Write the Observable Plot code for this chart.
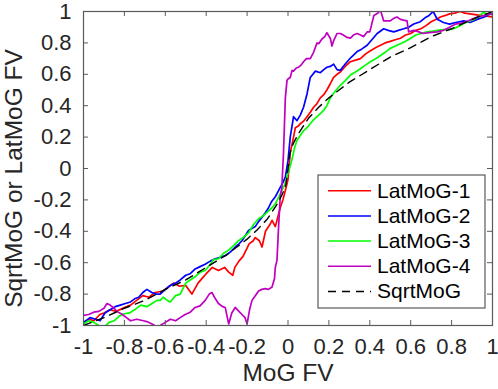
<!DOCTYPE html>
<html><head><meta charset="utf-8">
<script src="https://cdn.jsdelivr.net/npm/d3@7"></script>
<script src="https://cdn.jsdelivr.net/npm/@observablehq/plot@0.6"></script>
<style>body{margin:0;background:#fff}</style>
</head><body><div id="chart"></div>
<script>
const xTicks = [-1, -0.8, -0.6, -0.4, -0.2, 0, 0.2, 0.4, 0.6, 0.8, 1];
const yTicks = [-1, -0.8, -0.6, -0.4, -0.2, 0, 0.2, 0.4, 0.6, 0.8, 1];
const xLabel = "MoG FV";
const yLabel = "SqrtMoG or LatMoG FV";
const seriesNames = ["LatMoG-1", "LatMoG-2", "LatMoG-3", "LatMoG-4", "SqrtMoG"];
const seriesColors = ["#ff0000", "#0000ff", "#00ff00", "#c000c0", "#000000"];

const lat1 = [[-1,-0.98],[-0.97,-0.96],[-0.95,-0.97],[-0.92,-0.93],[-0.9,-0.92],[-0.87,-0.9],[-0.84,-0.91],[-0.8,-0.885],[-0.77,-0.87],[-0.74,-0.84],[-0.71,-0.81],[-0.68,-0.82],[-0.65,-0.79],[-0.61,-0.78],[-0.58,-0.75],[-0.56,-0.73],[-0.53,-0.75],[-0.5,-0.745],[-0.47,-0.8],[-0.44,-0.73],[-0.42,-0.7],[-0.4,-0.67],[-0.37,-0.63],[-0.34,-0.65],[-0.31,-0.63],[-0.29,-0.66],[-0.27,-0.68],[-0.26,-0.63],[-0.24,-0.59],[-0.22,-0.56],[-0.19,-0.48],[-0.17,-0.46],[-0.16,-0.44],[-0.14,-0.46],[-0.127,-0.5],[-0.11,-0.4],[-0.09,-0.36],[-0.078,-0.33],[-0.062,-0.37],[-0.05,-0.31],[-0.038,-0.25],[-0.025,-0.2],[-0.013,-0.14],[0,-0.07],[0.011,0.1],[0.027,0.2],[0.036,0.26],[0.05,0.27],[0.06,0.285],[0.075,0.3],[0.093,0.33],[0.11,0.36],[0.125,0.39],[0.14,0.41],[0.158,0.45],[0.175,0.47],[0.19,0.5],[0.207,0.54],[0.223,0.58],[0.24,0.6],[0.256,0.615],[0.28,0.65],[0.305,0.68],[0.33,0.69],[0.354,0.7],[0.38,0.73],[0.403,0.75],[0.43,0.77],[0.452,0.785],[0.475,0.8],[0.5,0.81],[0.525,0.82],[0.55,0.83],[0.575,0.85],[0.6,0.86],[0.625,0.88],[0.65,0.89],[0.675,0.91],[0.7,0.935],[0.725,0.95],[0.745,0.965],[0.77,0.975],[0.79,0.985],[0.815,0.99],[0.84,1.0],[0.865,0.99],[0.89,0.985],[0.915,0.98],[0.94,0.975],[0.97,0.97],[1,0.965]];

const lat2 = [[-1,-0.98],[-0.968,-0.95],[-0.94,-0.96],[-0.919,-0.97],[-0.895,-0.92],[-0.87,-0.9],[-0.845,-0.88],[-0.82,-0.87],[-0.795,-0.86],[-0.77,-0.85],[-0.75,-0.83],[-0.73,-0.82],[-0.71,-0.79],[-0.69,-0.77],[-0.666,-0.79],[-0.645,-0.8],[-0.625,-0.8],[-0.6,-0.77],[-0.576,-0.745],[-0.55,-0.73],[-0.527,-0.71],[-0.5,-0.68],[-0.478,-0.67],[-0.454,-0.64],[-0.43,-0.625],[-0.405,-0.61],[-0.38,-0.59],[-0.356,-0.575],[-0.33,-0.565],[-0.307,-0.555],[-0.28,-0.53],[-0.258,-0.5],[-0.24,-0.48],[-0.225,-0.46],[-0.21,-0.43],[-0.193,-0.395],[-0.175,-0.38],[-0.16,-0.37],[-0.145,-0.34],[-0.127,-0.31],[-0.11,-0.28],[-0.095,-0.25],[-0.08,-0.21],[-0.062,-0.18],[-0.05,-0.15],[-0.038,-0.12],[-0.025,-0.09],[-0.013,-0.055],[0,0.05],[0.011,0.2],[0.027,0.33],[0.044,0.305],[0.06,0.34],[0.076,0.39],[0.093,0.475],[0.109,0.58],[0.134,0.62],[0.158,0.61],[0.175,0.63],[0.19,0.645],[0.207,0.65],[0.223,0.665],[0.24,0.63],[0.256,0.625],[0.27,0.65],[0.289,0.68],[0.31,0.71],[0.338,0.745],[0.36,0.76],[0.387,0.785],[0.41,0.82],[0.436,0.86],[0.468,0.89],[0.49,0.88],[0.517,0.87],[0.54,0.88],[0.566,0.89],[0.59,0.9],[0.615,0.92],[0.647,0.935],[0.67,0.96],[0.69,0.975],[0.71,1.0],[0.73,0.95],[0.76,0.93],[0.79,0.92],[0.82,0.93],[0.86,0.94],[0.89,0.93],[0.925,0.95],[0.96,0.965],[0.99,0.985],[1,0.98]];

const lat3 = [[-1,-0.99],[-0.975,-0.97],[-0.95,-0.98],[-0.925,-1.0],[-0.9,-1.01],[-0.875,-0.98],[-0.85,-0.97],[-0.825,-0.94],[-0.8,-0.925],[-0.775,-0.92],[-0.75,-0.9],[-0.72,-0.87],[-0.69,-0.88],[-0.665,-0.86],[-0.64,-0.84],[-0.625,-0.84],[-0.61,-0.82],[-0.59,-0.84],[-0.576,-0.85],[-0.55,-0.81],[-0.527,-0.8],[-0.5,-0.73],[-0.478,-0.71],[-0.454,-0.69],[-0.43,-0.66],[-0.405,-0.65],[-0.38,-0.61],[-0.364,-0.58],[-0.34,-0.575],[-0.315,-0.54],[-0.29,-0.52],[-0.265,-0.49],[-0.242,-0.46],[-0.22,-0.44],[-0.193,-0.41],[-0.17,-0.36],[-0.144,-0.32],[-0.12,-0.3],[-0.095,-0.27],[-0.078,-0.25],[-0.062,-0.225],[-0.045,-0.18],[-0.03,-0.14],[-0.015,-0.1],[-0.005,-0.05],[0.005,-0.01],[0.02,0.06],[0.032,0.13],[0.044,0.18],[0.06,0.21],[0.076,0.24],[0.093,0.26],[0.109,0.285],[0.125,0.31],[0.142,0.33],[0.158,0.35],[0.174,0.37],[0.19,0.4],[0.207,0.45],[0.23,0.49],[0.256,0.53],[0.28,0.56],[0.305,0.595],[0.33,0.615],[0.354,0.635],[0.38,0.66],[0.403,0.68],[0.43,0.7],[0.452,0.72],[0.475,0.74],[0.5,0.765],[0.525,0.78],[0.55,0.795],[0.575,0.81],[0.6,0.83],[0.625,0.85],[0.65,0.86],[0.68,0.87],[0.71,0.875],[0.73,0.88],[0.76,0.885],[0.785,0.885],[0.81,0.89],[0.84,0.91],[0.87,0.93],[0.91,0.95],[0.935,0.97],[0.955,0.995],[0.98,0.98],[1,0.985]];

const lat4 = [[-1,-0.935],[-0.975,-0.93],[-0.95,-0.915],[-0.925,-0.91],[-0.9,-0.89],[-0.885,-0.86],[-0.87,-0.87],[-0.85,-0.89],[-0.837,-0.91],[-0.81,-0.93],[-0.79,-0.95],[-0.77,-0.97],[-0.74,-0.96],[-0.707,-0.97],[-0.69,-0.975],[-0.665,-0.99],[-0.64,-1.01],[-0.625,-1.0],[-0.6,-0.98],[-0.575,-0.96],[-0.55,-0.97],[-0.527,-0.95],[-0.503,-0.93],[-0.478,-0.915],[-0.454,-0.885],[-0.43,-0.875],[-0.405,-0.84],[-0.385,-0.8],[-0.372,-0.79],[-0.355,-0.83],[-0.34,-0.86],[-0.32,-0.88],[-0.307,-0.885],[-0.29,-0.99],[-0.275,-0.92],[-0.258,-0.885],[-0.24,-0.91],[-0.225,-0.93],[-0.21,-0.95],[-0.2,-0.99],[-0.188,-0.9],[-0.176,-0.84],[-0.16,-0.81],[-0.144,-0.78],[-0.128,-0.77],[-0.111,-0.765],[-0.095,-0.77],[-0.078,-0.755],[-0.066,-0.7],[-0.062,-0.63],[-0.054,-0.585],[-0.046,-0.37],[-0.038,-0.18],[-0.03,-0.12],[-0.022,0.1],[-0.013,0.45],[-0.005,0.56],[0,0.57],[0.011,0.58],[0.02,0.625],[0.027,0.62],[0.04,0.64],[0.052,0.645],[0.065,0.66],[0.076,0.68],[0.09,0.7],[0.109,0.7],[0.125,0.74],[0.142,0.8],[0.15,0.795],[0.166,0.825],[0.18,0.84],[0.19,0.865],[0.207,0.83],[0.215,0.78],[0.225,0.82],[0.24,0.86],[0.256,0.86],[0.27,0.85],[0.289,0.835],[0.305,0.83],[0.32,0.85],[0.338,0.86],[0.355,0.85],[0.37,0.84],[0.387,0.87],[0.4,0.87],[0.42,0.975],[0.44,0.99],[0.452,1.01],[0.468,0.94],[0.485,0.94],[0.5,0.94],[0.515,0.955],[0.533,0.965],[0.55,0.95],[0.565,0.945],[0.582,0.94],[0.59,0.87],[0.615,0.88],[0.64,0.87],[0.66,0.86],[0.69,0.865],[0.73,0.87],[0.76,0.88],[0.79,0.9],[0.82,0.92],[0.86,0.93],[0.89,0.945],[0.925,0.965],[0.96,0.975],[0.99,0.985],[1,0.98]];

const sqrtMoG = [[-1,-1],[-0.9,-0.95],[-0.8,-0.89],[-0.7,-0.84],[-0.6,-0.77],[-0.5,-0.71],[-0.4,-0.63],[-0.3,-0.55],[-0.25,-0.5],[-0.2,-0.45],[-0.15,-0.39],[-0.1,-0.32],[-0.07,-0.26],[-0.05,-0.22],[-0.03,-0.17],[-0.02,-0.14],[-0.01,-0.1],[0,0],[0.01,0.1],[0.02,0.14],[0.03,0.17],[0.05,0.22],[0.07,0.26],[0.1,0.32],[0.15,0.39],[0.2,0.45],[0.25,0.5],[0.3,0.55],[0.4,0.63],[0.5,0.71],[0.6,0.77],[0.7,0.84],[0.8,0.89],[0.9,0.95],[1,1]];

const seriesData = [lat1, lat2, lat3, lat4, sqrtMoG];

const W = 498, H = 389;
const mL = 83, mR = 6, mT = 11, mB = 64;
const fw = W - mL - mR, fh = H - mT - mB;
const ink = "#262626", axisColor = "#5a5a5a";
const tickFont = 22, labelFont = 24.5, legendFont = 21;

const lineMarks = seriesData.map((s, i) => Plot.line(s, {
  x: d => d[0], y: d => d[1],
  stroke: seriesColors[i],
  strokeWidth: i === 4 ? 1.4 : 1.7,
  strokeDasharray: i === 4 ? "8,6" : null,
  clip: true
}));

const chart = Plot.plot({
  width: W, height: H,
  marginLeft: mL, marginRight: mR, marginTop: mT, marginBottom: mB,
  style: {fontFamily: "'Liberation Sans', Arial, Helvetica, sans-serif", fontSize: tickFont + "px", background: "#fff", color: ink},
  x: {domain: [-1, 1]},
  y: {domain: [-1, 1]},
  marks: [
    ...lineMarks,
    Plot.ruleX(xTicks, {x: d => d, insetTop: fh - 5, stroke: axisColor}),
    Plot.ruleX(xTicks, {x: d => d, insetBottom: fh - 5, stroke: axisColor}),
    Plot.ruleY(yTicks, {y: d => d, insetRight: fw - 5, stroke: axisColor}),
    Plot.ruleY(yTicks, {y: d => d, insetLeft: fw - 5, stroke: axisColor}),
    Plot.frame({stroke: axisColor, strokeWidth: 1.2}),
    Plot.axisX({ticks: xTicks, tickSize: 0, tickPadding: 13, tickFormat: d => String(d), fill: ink, fontSize: tickFont, label: null}),
    Plot.axisY({ticks: yTicks, tickSize: 0, tickPadding: 12, tickFormat: d => String(d), fill: ink, fontSize: tickFont, label: null}),
    Plot.text([xLabel], {text: d => d, frameAnchor: "bottom", dy: 48, lineAnchor: "middle", textAnchor: "middle", fontSize: labelFont, fill: ink}),
    Plot.text([yLabel], {text: d => d, frameAnchor: "left", dx: -69, dy: 10, rotate: -90, lineAnchor: "middle", textAnchor: "middle", fontSize: labelFont, fill: ink})
  ]
});

document.getElementById("chart").appendChild(chart);

// legend
const svg = d3.select(chart);
const lg = svg.append("g").attr("text-anchor", "start");
lg.append("rect").attr("x", 318).attr("y", 175).attr("width", 167).attr("height", 133)
  .attr("fill", "#fff").attr("stroke", axisColor).attr("stroke-width", 1.2);
seriesNames.forEach((name, i) => {
  const y = 190.7 + i * 25.2;
  lg.append("line").attr("x1", 328).attr("x2", 371).attr("y1", y).attr("y2", y)
    .attr("stroke", seriesColors[i]).attr("stroke-width", 1.5)
    .attr("stroke-dasharray", i === 4 ? "8,6" : null);
  lg.append("text").attr("x", 377).attr("y", y).attr("dy", "0.33em")
    .attr("fill", "#000").attr("font-size", legendFont).text(name);
});
</script>
</body></html>
